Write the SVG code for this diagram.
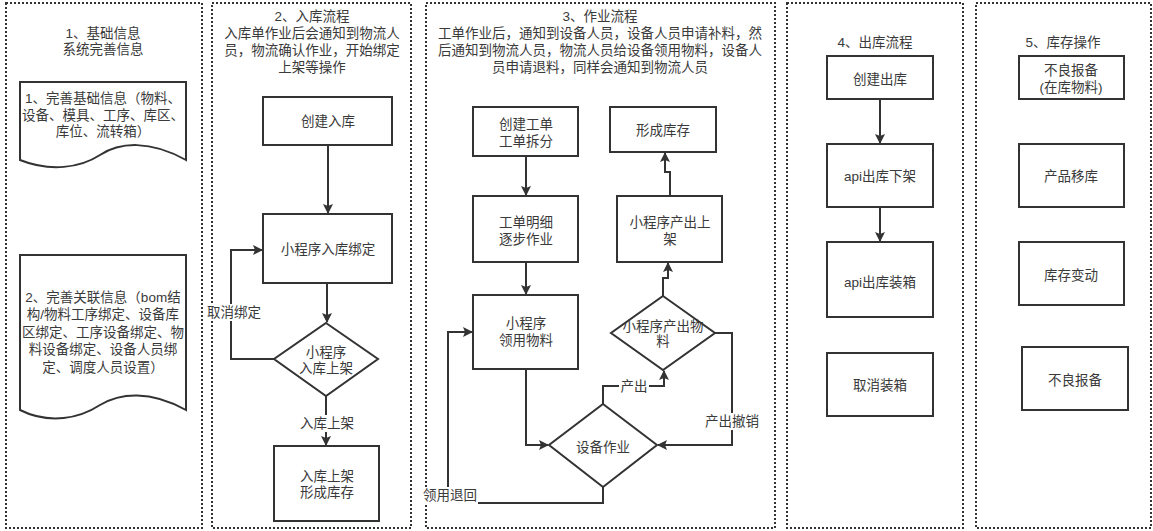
<svg xmlns="http://www.w3.org/2000/svg" width="1153" height="531" viewBox="0 0 1153 531">
<style>
text{font-family:"Liberation Sans","Noto Sans CJK SC",sans-serif;font-size:13.5px;fill:#3a3a3a;text-anchor:middle;dominant-baseline:central}
.c{fill:none;stroke:#333;stroke-width:2;stroke-dasharray:2 2}
.b{fill:#fff;stroke:#333;stroke-width:2}
.l{fill:none;stroke:#333;stroke-width:2}
.bg{fill:#fff}
</style>
<defs>
<marker id="a" markerWidth="10" markerHeight="10" refX="9" refY="5" orient="auto" markerUnits="userSpaceOnUse"><path d="M0,0 L10,5 L0,10 L2,5 Z" fill="#333"/></marker>
</defs>
<rect width="1153" height="531" fill="#fff"/>
<g id="containers">
<rect class="c" x="6" y="3" width="196" height="525"/>
<rect class="c" x="212" y="3" width="199" height="525"/>
<rect class="c" x="426" y="3" width="349" height="525"/>
<rect class="c" x="787" y="3" width="176" height="525"/>
<rect class="c" x="976" y="3" width="175" height="525"/>
</g>
<g id="titles">
<text x="103" y="33">1、基础信息<tspan x="103" y="49">系统完善信息</tspan></text>
<text x="312" y="16">2、入库流程<tspan x="312" y="33">入库单作业后会通知到物流人</tspan><tspan x="312" y="50">员，物流确认作业，开始绑定</tspan><tspan x="312" y="67">上架等操作</tspan></text>
<text x="600" y="16">3、作业流程<tspan x="600" y="33">工单作业后，通知到设备人员，设备人员申请补料，然</tspan><tspan x="600" y="50">后通知到物流人员，物流人员给设备领用物料，设备人</tspan><tspan x="600" y="67">员申请退料，同样会通知到物流人员</tspan></text>
<text x="875" y="42">4、出库流程</text>
<text x="1063" y="42">5、库存操作</text>
</g>
<g id="doc1">
<path class="b" d="M20,82 H186 V160 C150,140 120,142 100,155 C80,168 50,172 20,160 Z"/>
<text x="103" y="98">1、完善基础信息（物料、<tspan x="103" y="115">设备、模具、工序、库区、</tspan><tspan x="103" y="131">库位、流转箱）</tspan></text>
</g>
<g id="doc2">
<path class="b" d="M20,255 H186 V410 C150,390 120,393 100,405 C80,418 50,425 20,410 Z"/>
<text x="103" y="297">2、完善关联信息（bom结<tspan x="103" y="314">构/物料工序绑定、设备库</tspan><tspan x="103" y="332">区绑定、工序设备绑定、物</tspan><tspan x="103" y="349">料设备绑定、设备人员绑</tspan><tspan x="103" y="367">定、调度人员设置）</tspan></text>
</g>
<g id="connectors">
<path class="l" d="M328,145 V213" marker-end="url(#a)"/>
<path class="l" d="M327,283 V322" marker-end="url(#a)"/>
<path class="l" d="M274,359 H231 V250 H262" marker-end="url(#a)"/>
<path class="l" d="M326,396 V445" marker-end="url(#a)"/>
<path class="l" d="M526,156 V195" marker-end="url(#a)"/>
<path class="l" d="M526,262 V294" marker-end="url(#a)"/>
<path class="l" d="M526,369 V445 H548" marker-end="url(#a)"/>
<path class="l" d="M603,487 V503 H448 V332 H472" marker-end="url(#a)"/>
<path class="l" d="M603,404 V386 H664 V371" marker-end="url(#a)"/>
<path class="l" d="M715,333 H732 V445 H658" marker-end="url(#a)"/>
<path class="l" d="M663,296 V278 H668 V263" marker-end="url(#a)"/>
<path class="l" d="M670,196 V172 H665 V153" marker-end="url(#a)"/>
<path class="l" d="M880,99 V143" marker-end="url(#a)"/>
<path class="l" d="M880,207 V241" marker-end="url(#a)"/>
<rect class="bg" x="206" y="304" width="56" height="17"/>
<text x="234" y="312">取消绑定</text>
<rect class="bg" x="300" y="415" width="54" height="17"/>
<text x="327" y="423">入库上架</text>
<rect class="bg" x="619" y="378" width="30" height="17"/>
<text x="634" y="386">产出</text>
<rect class="bg" x="704" y="413" width="56" height="17"/>
<text x="732" y="421">产出撤销</text>
<rect class="bg" x="422" y="487" width="56" height="17"/>
<text x="450" y="495">领用退回</text>
</g>
<g id="n-create-in"><rect class="b" x="263" y="97" width="129" height="48"/><text x="328" y="121">创建入库</text></g>
<g id="n-bind"><rect class="b" x="263" y="214" width="129" height="69"/><text x="328" y="249">小程序入库绑定</text></g>
<g id="n-shelf-d"><path class="b" d="M326,323 L378,359 L326,396 L274,359 Z"/><text x="326" y="352">小程序<tspan x="326" y="368">入库上架</tspan></text></g>
<g id="n-stock-in"><rect class="b" x="274" y="446" width="105" height="75"/><text x="327" y="476">入库上架<tspan x="327" y="492">形成库存</tspan></text></g>
<g id="n-create-wo"><rect class="b" x="473" y="107" width="105" height="49"/><text x="526" y="124">创建工单<tspan x="526" y="141">工单拆分</tspan></text></g>
<g id="n-wo-detail"><rect class="b" x="473" y="196" width="105" height="66"/><text x="526" y="222">工单明细<tspan x="526" y="239">逐步作业</tspan></text></g>
<g id="n-pick"><rect class="b" x="473" y="295" width="105" height="74"/><text x="526" y="323">小程序<tspan x="526" y="340">领用物料</tspan></text></g>
<g id="n-device-d"><path class="b" d="M603,404 L657,445 L603,487 L549,445 Z"/><text x="603" y="447">设备作业</text></g>
<g id="n-output-d"><path class="b" d="M663,296 L715,333 L663,370 L611,333 Z"/><text x="663" y="326">小程序产出物<tspan x="663" y="341">料</tspan></text></g>
<g id="n-output-shelf"><rect class="b" x="617" y="196" width="105" height="66"/><text x="670" y="222">小程序产出上<tspan x="670" y="239">架</tspan></text></g>
<g id="n-stock"><rect class="b" x="610" y="107" width="106" height="45"/><text x="663" y="130">形成库存</text></g>
<g id="n-create-out"><rect class="b" x="827" y="56" width="106" height="43"/><text x="880" y="79">创建出库</text></g>
<g id="n-api-off"><rect class="b" x="827" y="144" width="106" height="63"/><text x="880" y="176">api出库下架</text></g>
<g id="n-api-box"><rect class="b" x="827" y="242" width="106" height="75"/><text x="880" y="282">api出库装箱</text></g>
<g id="n-cancel-box"><rect class="b" x="827" y="353" width="106" height="63"/><text x="880" y="385">取消装箱</text></g>
<g id="n-bad1"><rect class="b" x="1019" y="56" width="105" height="43"/><text x="1071" y="70">不良报备<tspan x="1071" y="87">(在库物料)</tspan></text></g>
<g id="n-move"><rect class="b" x="1019" y="144" width="105" height="63"/><text x="1071" y="176">产品移库</text></g>
<g id="n-change"><rect class="b" x="1019" y="242" width="105" height="63"/><text x="1071" y="275">库存变动</text></g>
<g id="n-bad2"><rect class="b" x="1022" y="347" width="106" height="63"/><text x="1075" y="380">不良报备</text></g>
</svg>
